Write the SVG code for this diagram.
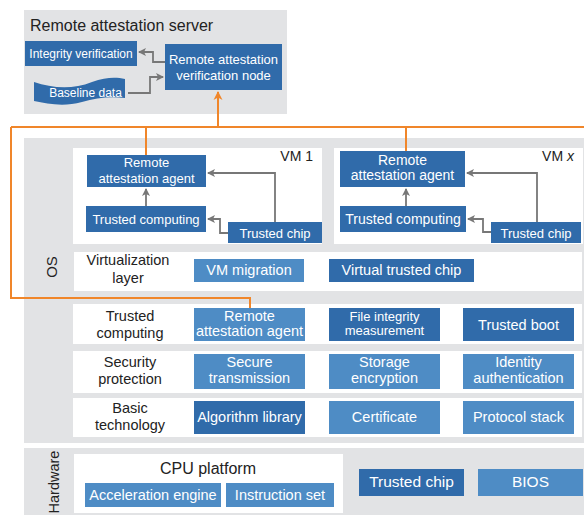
<svg xmlns="http://www.w3.org/2000/svg" width="584" height="515" viewBox="0 0 584 515">
<defs>
<style>
text{font-family:"Liberation Sans",Arial,sans-serif;}
.bg{fill:#E2E3E5;}
.wh{fill:#FFFFFF;}
.dk{fill:#306BAA;}
.lt{fill:#4E8CC5;}
.tw{fill:#FFFFFF;text-anchor:middle;}
.tb{fill:#222222;text-anchor:middle;}
.arr{fill:none;stroke:#777777;stroke-width:1.8;marker-end:url(#ga);}
.or{fill:none;stroke:#F0862A;stroke-width:2;}
</style>
<marker id="ga" markerUnits="userSpaceOnUse" markerWidth="10" markerHeight="10" refX="7" refY="5" orient="auto">
<path d="M0,1 L8,5 L0,9 L2,5 Z" fill="#777777"/>
</marker>
<marker id="oa" markerUnits="userSpaceOnUse" markerWidth="12" markerHeight="12" refX="8" refY="6" orient="auto">
<path d="M0,1.5 L9,6 L0,10.5 L2.5,6 Z" fill="#F0862A"/>
</marker>
</defs>

<!-- backgrounds -->
<g id="server">
<rect class="bg" x="24" y="10" width="263" height="104"/>
<text x="30" y="31" font-size="16" fill="#222222">Remote attestation server</text>
</g>
<g id="os">
<rect class="bg" x="24" y="138" width="560" height="305"/>
<text transform="translate(57,267) rotate(-90)" font-size="15" class="tb">OS</text>
</g>
<g id="hardware">
<rect class="bg" x="24" y="448" width="560" height="67"/>
<text transform="translate(59,482) rotate(-90)" font-size="14.5" class="tb">Hardware</text>
</g>

<!-- server nodes -->
<g id="integrity-verification">
<rect class="dk" x="25" y="41" width="112" height="25"/>
<text class="tw" x="81" y="58" font-size="12">Integrity verification</text>
</g>
<g id="ra-verification-node">
<rect class="dk" x="165" y="44" width="117" height="46"/>
<text class="tw" x="223.5" y="64" font-size="13">Remote attestation</text>
<text class="tw" x="223.5" y="80" font-size="13">verification node</text>
</g>
<g id="baseline-data">
<path class="dk" d="M34,82 C52,88 72,90 92,82 C106,77 116,77 125,79 L125,98 C110,96 96,98 82,102 C64,107 48,104 34,101 Z"/>
<text class="tw" x="85.5" y="97" font-size="12">Baseline data</text>
</g>

<!-- VM 1 -->
<g id="vm1">
<rect class="wh" x="73" y="148" width="249" height="96"/>
<text x="313" y="161" font-size="14" fill="#222222" text-anchor="end">VM 1</text>
</g>
<g id="vm1-ra-agent">
<rect class="dk" x="87" y="155" width="119" height="32"/>
<text class="tw" x="146.5" y="167" font-size="13">Remote</text>
<text class="tw" x="146.5" y="183" font-size="13">attestation agent</text>
</g>
<g id="vm1-trusted-computing">
<rect class="dk" x="86" y="206" width="120" height="26"/>
<text class="tw" x="146" y="224" font-size="13">Trusted computing</text>
</g>
<g id="vm1-trusted-chip">
<rect class="dk" x="228" y="222" width="94" height="21"/>
<text class="tw" x="275" y="238" font-size="13">Trusted chip</text>
</g>

<!-- VM x -->
<g id="vmx">
<rect class="wh" x="334" y="148" width="249" height="96"/>
<text x="574" y="161" font-size="14" fill="#222222" text-anchor="end">VM <tspan font-style="italic">x</tspan></text>
</g>
<g id="vmx-ra-agent">
<rect class="dk" x="340" y="151" width="125" height="36"/>
<text class="tw" x="402.5" y="165" font-size="14">Remote</text>
<text class="tw" x="402.5" y="180" font-size="14">attestation agent</text>
</g>
<g id="vmx-trusted-computing">
<rect class="dk" x="340" y="206" width="126" height="26"/>
<text class="tw" x="403" y="224" font-size="14">Trusted computing</text>
</g>
<g id="vmx-trusted-chip">
<rect class="dk" x="491" y="222" width="90" height="21"/>
<text class="tw" x="536" y="238" font-size="13">Trusted chip</text>
</g>

<!-- Virtualization layer -->
<g id="virtualization-layer">
<rect class="wh" x="74" y="252" width="508" height="39"/>
<text class="tb" x="128" y="265" font-size="14.5">Virtualization</text>
<text class="tb" x="128" y="283" font-size="14.5">layer</text>
</g>
<g id="vm-migration">
<rect class="lt" x="194" y="259" width="110" height="23"/>
<text class="tw" x="249" y="275" font-size="14.5">VM migration</text>
</g>
<g id="virtual-trusted-chip">
<rect class="dk" x="329" y="259" width="145" height="23"/>
<text class="tw" x="401.5" y="275" font-size="14.5">Virtual trusted chip</text>
</g>

<!-- Trusted computing row -->
<g id="trusted-computing-layer">
<rect class="wh" x="73" y="304" width="509" height="40"/>
<text class="tb" x="130" y="321" font-size="14.5">Trusted</text>
<text class="tb" x="130" y="338" font-size="14.5">computing</text>
</g>
<g id="tc-ra-agent">
<rect class="lt" x="194" y="308" width="111" height="33"/>
<text class="tw" x="249.5" y="321" font-size="14.5">Remote</text>
<text class="tw" x="249.5" y="336" font-size="14.5">attestation agent</text>
</g>
<g id="file-integrity">
<rect class="dk" x="329" y="308" width="111" height="33"/>
<text class="tw" x="384.5" y="321" font-size="13">File integrity</text>
<text class="tw" x="384.5" y="335" font-size="13">measurement</text>
</g>
<g id="trusted-boot">
<rect class="dk" x="463" y="308" width="111" height="33"/>
<text class="tw" x="518.5" y="330" font-size="14.5">Trusted boot</text>
</g>

<!-- Security protection row -->
<g id="security-protection-layer">
<rect class="wh" x="73" y="351" width="509" height="42"/>
<text class="tb" x="130" y="367" font-size="14.5">Security</text>
<text class="tb" x="130" y="384" font-size="14.5">protection</text>
</g>
<g id="secure-transmission">
<rect class="lt" x="194" y="354" width="111" height="35"/>
<text class="tw" x="249.5" y="367" font-size="14.5">Secure</text>
<text class="tw" x="249.5" y="383" font-size="14.5">transmission</text>
</g>
<g id="storage-encryption">
<rect class="lt" x="329" y="354" width="111" height="35"/>
<text class="tw" x="384.5" y="367" font-size="14.5">Storage</text>
<text class="tw" x="384.5" y="383" font-size="14.5">encryption</text>
</g>
<g id="identity-authentication">
<rect class="lt" x="463" y="354" width="111" height="35"/>
<text class="tw" x="518.5" y="367" font-size="14.5">Identity</text>
<text class="tw" x="518.5" y="383" font-size="14.5">authentication</text>
</g>

<!-- Basic technology row -->
<g id="basic-technology-layer">
<rect class="wh" x="73" y="398" width="509" height="39"/>
<text class="tb" x="130" y="413" font-size="14.5">Basic</text>
<text class="tb" x="130" y="430" font-size="14.5">technology</text>
</g>
<g id="algorithm-library">
<rect class="dk" x="194" y="401" width="111" height="33"/>
<text class="tw" x="249.5" y="422" font-size="14.5">Algorithm library</text>
</g>
<g id="certificate">
<rect class="lt" x="329" y="401" width="111" height="33"/>
<text class="tw" x="384.5" y="422" font-size="14.5">Certificate</text>
</g>
<g id="protocol-stack">
<rect class="lt" x="463" y="401" width="111" height="33"/>
<text class="tw" x="518.5" y="422" font-size="14.5">Protocol stack</text>
</g>

<!-- Hardware -->
<g id="cpu-platform">
<rect class="wh" x="74" y="454" width="269" height="59"/>
<text class="tb" x="208" y="474" font-size="16">CPU platform</text>
</g>
<g id="acceleration-engine">
<rect class="lt" x="85" y="483" width="136" height="24"/>
<text class="tw" x="153" y="500" font-size="14.5">Acceleration engine</text>
</g>
<g id="instruction-set">
<rect class="lt" x="226" y="483" width="108" height="24"/>
<text class="tw" x="280" y="500" font-size="14.5">Instruction set</text>
</g>
<g id="hw-trusted-chip">
<rect class="dk" x="359" y="469" width="105" height="27"/>
<text class="tw" x="411.5" y="487" font-size="15.5">Trusted chip</text>
</g>
<g id="bios">
<rect class="lt" x="478" y="469" width="105" height="27"/>
<text class="tw" x="530.5" y="487" font-size="15.5">BIOS</text>
</g>

<!-- connectors -->
<g id="connectors">
<path class="arr" d="M165,62 H153 V52 H139"/>
<path class="arr" d="M128,93 H150 V77 H163"/>
<path class="arr" d="M146,206 V189"/>
<path class="arr" d="M275,222 V173 H208"/>
<path class="arr" d="M228,233 H220 V219 H208"/>
<path class="arr" d="M406,206 V189"/>
<path class="arr" d="M537,222 V173 H467"/>
<path class="arr" d="M491,232 H483 V219 H468"/>
<path class="or" d="M11,127 H584"/>
<path class="or" d="M218,127 V92" marker-end="url(#oa)"/>
<path class="or" d="M11,127 V298 H250 V308"/>
<path class="or" d="M146,127 V155"/>
<path class="or" d="M406,127 V151"/>
</g>
</svg>
